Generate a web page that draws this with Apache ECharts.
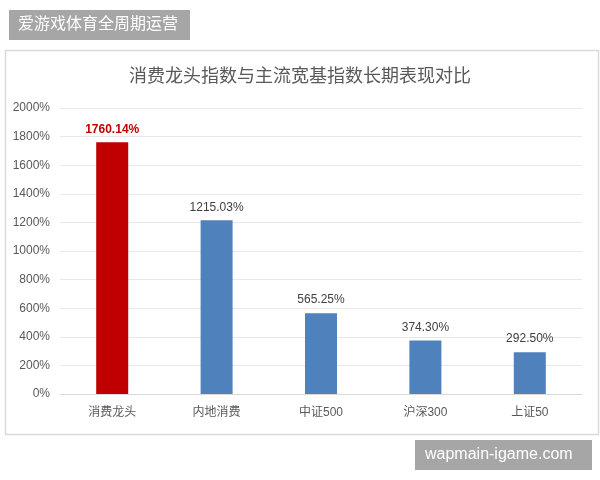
<!DOCTYPE html>
<html><head><meta charset="utf-8">
<script src="https://cdn.jsdelivr.net/npm/echarts@6/dist/echarts.min.js"></script>
<style>html,body{margin:0;padding:0;background:#fff}#c{width:600px;height:480px}</style>
</head><body><div id="c"></div>
<script>
var categories = ['消费龙头', '内地消费', '中证500', '沪深300', '上证50'];
var values = [1760.14, 1215.03, 565.25, 374.30, 292.50];
var yTicks = [0, 200, 400, 600, 800, 1000, 1200, 1400, 1600, 1800, 2000];
var titleText = '消费龙头指数与主流宽基指数长期表现对比';

var font = '"Liberation Sans",Arial,"Noto Sans CJK SC",sans-serif';
var chart = echarts.init(document.getElementById('c'));
var data = values.map(function (v, i) {
  var item = { value: v, itemStyle: { color: i === 0 ? '#c00000' : '#4f81bd' } };
  if (i === 0) item.label = { color: '#c00000', fontWeight: 'bold' };
  return item;
});
chart.setOption({
  animation: false,
  backgroundColor: '#fff',
  title: {
    text: titleText, left: 'center', top: 63,
    textStyle: { fontSize: 18, fontWeight: 'normal', color: '#595959', fontFamily: font }
  },
  grid: { left: 60, right: 18, top: 108, bottom: 86 },
  xAxis: {
    type: 'category', data: categories,
    axisLine: { lineStyle: { color: '#d9d9d9' } },
    axisTick: { show: false },
    axisLabel: { color: '#595959', fontSize: 12, margin: 13, fontFamily: font }
  },
  yAxis: {
    type: 'value', min: yTicks[0], max: yTicks[yTicks.length - 1], interval: yTicks[1] - yTicks[0],
    axisLine: { show: false }, axisTick: { show: false },
    splitLine: { lineStyle: { color: '#e8e8e8' } },
    axisLabel: { color: '#595959', fontSize: 12, margin: 10, fontFamily: font,
      formatter: function (v) { return v + '%'; } }
  },
  series: [{
    type: 'bar', data: data, barWidth: 32,
    label: {
      show: true, position: 'top', distance: 7, color: '#404040', fontSize: 12, fontFamily: font,
      formatter: function (p) { return p.value.toFixed(2) + '%'; }
    }
  }],
  graphic: [
    { type: 'rect', left: 3, top: 48, shape: { width: 593, height: 384 },
      style: { fill: 'none', stroke: '#d9d9d9', lineWidth: 1.5 }, z: -1 },
    { type: 'rect', left: 9, top: 10, shape: { width: 181, height: 30 }, style: { fill: '#a6a6a6' } },
    { type: 'text', left: 18, top: 17, style: { text: '爱游戏体育全周期运营', fill: '#fff', fontSize: 16, fontFamily: font } },
    { type: 'rect', left: 415, top: 440, shape: { width: 177, height: 30 }, style: { fill: '#a6a6a6' } },
    { type: 'text', left: 425, top: 447, style: { text: 'wapmain-igame.com', fill: '#fff', fontSize: 16, fontFamily: font } }
  ]
});
</script></body></html>
